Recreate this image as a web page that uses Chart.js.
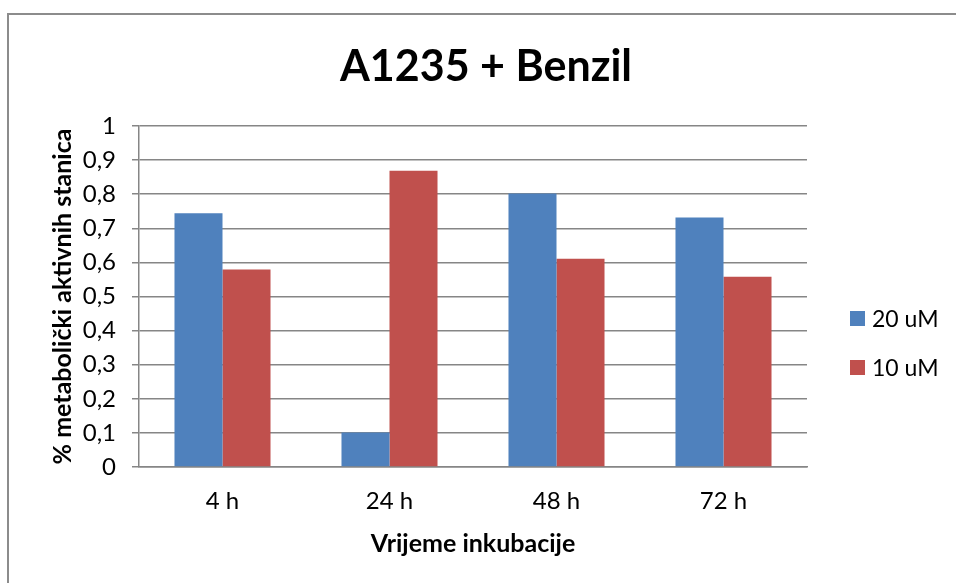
<!DOCTYPE html>
<html>
<head>
<meta charset="utf-8">
<script src="https://cdn.jsdelivr.net/npm/chart.js@4"></script>
<style>
  html, body { margin: 0; padding: 0; background: #fff; }
  #wrap { width: 956px; height: 583px; }
</style>
</head>
<body>
<div id="wrap"><canvas id="grafikon" width="956" height="583"></canvas></div>
<script>
// --- podaci ---
const naslov = "A1235 + Benzil";
const kategorije = ["4 h", "24 h", "48 h", "72 h"];
const serija20 = [0.744, 0.101, 0.802, 0.732];
const serija10 = [0.579, 0.869, 0.611, 0.558];
const nazivi = ["20 uM", "10 uM"];
const boje = ["#4F81BD", "#C0504D"];

const font = "Lato, Calibri, 'Open Sans', sans-serif";
const sivo = "#868686";

// okvir, naslov i legenda crtamo sami
const dodaci = {
    id: "dodaci",
    afterDraw(chart) {
        const ctx = chart.ctx;
        ctx.save();
        ctx.strokeStyle = "#8c8c8c";
        ctx.lineWidth = 2;
        ctx.beginPath();
        ctx.moveTo(8, 583);
        ctx.lineTo(8, 14);
        ctx.lineTo(956, 14);
        ctx.stroke();

        ctx.fillStyle = "#000";
        ctx.textAlign = "center";
        ctx.textBaseline = "alphabetic";
        ctx.font = "bold 43px " + font;
        ctx.fillText(naslov, 486, 81);

        ctx.textAlign = "left";
        ctx.font = "23px " + font;
        chart.data.datasets.forEach((ds, i) => {
            const y = 311 + i * 49;
            ctx.fillStyle = ds.backgroundColor;
            ctx.fillRect(850, y, 15, 15);
            ctx.fillStyle = "#000";
            ctx.fillText(ds.label, 872, y + 16);
        });
        ctx.restore();
    }
};

new Chart(document.getElementById("grafikon").getContext("2d"), {
    type: "bar",
    data: {
        labels: kategorije,
        datasets: [
            { label: nazivi[0], data: serija20, backgroundColor: boje[0] },
            { label: nazivi[1], data: serija10, backgroundColor: boje[1] }
        ]
    },
    options: {
        responsive: false,
        animation: false,
        layout: { padding: { left: 14, right: 149, top: 126, bottom: 0 } },
        datasets: {
            bar: { categoryPercentage: 0.575, barPercentage: 1.0, borderWidth: 0 }
        },
        plugins: {
            legend: { display: false },
            title: { display: false },
            tooltip: { enabled: false }
        },
        scales: {
            x: {
                grid: { display: false, drawTicks: false },
                border: { display: true, color: sivo, width: 1.5 },
                ticks: { color: "#000", font: { family: font, size: 24 }, padding: 20 },
                title: {
                    display: true,
                    text: "Vrijeme inkubacije",
                    color: "#000",
                    font: { family: font, size: 25, weight: "bold" },
                    padding: { top: 0, bottom: 24 }
                },
                afterFit(scale) { scale.height = 116; }
            },
            y: {
                min: 0,
                max: 1,
                grid: { color: sivo, lineWidth: 1.5, tickLength: 7 },
                border: { display: true, color: sivo, width: 1.5 },
                ticks: {
                    stepSize: 0.1,
                    color: "#000",
                    padding: 16,
                    font: { family: font, size: 24 },
                    callback: v => String(Math.round(v * 10) / 10).replace(".", ",")
                },
                title: {
                    display: true,
                    text: "% metabolički aktivnih stanica",
                    color: "#000",
                    font: { family: font, size: 25, weight: "bold" },
                    padding: { top: 34, bottom: 0 }
                },
                afterFit(scale) { scale.width = 125; }
            }
        }
    },
    plugins: [dodaci]
});
</script>
</body>
</html>
